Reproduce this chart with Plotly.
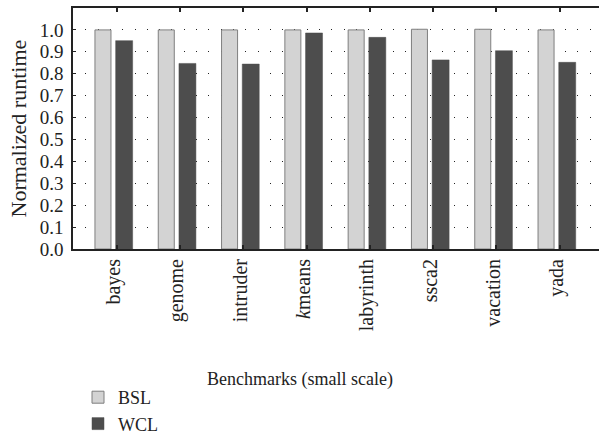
import plotly.graph_objects as go

categories = ["bayes", "genome", "intruder", "<i>k</i>means", "labyrinth", "ssca2", "vacation", "yada"]
bsl = [1.0, 1.0, 1.0, 1.0, 1.0, 1.003, 1.003, 1.0]
wcl = [0.951, 0.847, 0.844, 0.986, 0.966, 0.863, 0.905, 0.852]
y_ticks = [0.0, 0.1, 0.2, 0.3, 0.4, 0.5, 0.6, 0.7, 0.8, 0.9, 1.0]

FONT = "Liberation Serif"

fig = go.Figure()
fig.add_trace(go.Bar(
    x=categories, y=bsl, name="BSL",
    offset=-0.343, width=0.253,
    marker=dict(color="#d3d3d3", line=dict(color="#7f7f7f", width=1)),
))
fig.add_trace(go.Bar(
    x=categories, y=wcl, name="WCL",
    offset=-0.016, width=0.268,
    marker=dict(color="#4d4d4d", line=dict(color="#4d4d4d", width=0.5)),
))

fig.update_layout(
    width=599, height=436,
    margin=dict(l=73, r=0, t=8, b=187, autoexpand=False),
    paper_bgcolor="white", plot_bgcolor="white",
    font=dict(family=FONT, size=19, color="#222"),
    barmode="overlay",
    legend=dict(
        xref="container", yref="container",
        x=78 / 599, y=1 - 379 / 436, xanchor="left", yanchor="top",
        font=dict(family=FONT, size=18),
        bgcolor="rgba(0,0,0,0)", tracegroupgap=0,
    ),
    annotations=[
        dict(
            text="Benchmarks (small scale)", xref="paper", yref="paper",
            x=(299.5 - 73) / 526, y=(249 - 380) / 241, xanchor="center", yanchor="middle",
            showarrow=False, font=dict(family=FONT, size=18, color="#222"),
        ),
        dict(
            text="Normalized runtime", xref="paper", yref="paper",
            x=(18 - 73) / 526, y=0.5, xanchor="center", yanchor="middle",
            textangle=-90, showarrow=False,
            font=dict(family=FONT, size=22, color="#222"),
        ),
    ],
)
fig.update_xaxes(
    type="category", range=[-0.69, 7.62],
    showline=True, linecolor="#222", linewidth=2,
    mirror="ticks", ticks="inside", ticklen=4, tickwidth=1.5, tickcolor="#222",
    tickangle=-90, showgrid=False, ticklabelshift=-3,
    tickfont=dict(family=FONT, size=20),
)
fig.update_yaxes(
    range=[0, 1.1], tickvals=y_ticks, tickformat=".1f",
    showline=True, linecolor="#222", linewidth=1.5,
    ticks="inside", ticklen=3, tickwidth=1, tickcolor="#222",
    ticklabelstandoff=4,
    showgrid=True, gridcolor="#222", gridwidth=1,
    griddash="1px,11.3px", zeroline=False,
    tickfont=dict(family=FONT, size=19),
)

fig.write_html("out.html", config={"displayModeBar": False},
               post_script="document.body.style.margin='0';")
